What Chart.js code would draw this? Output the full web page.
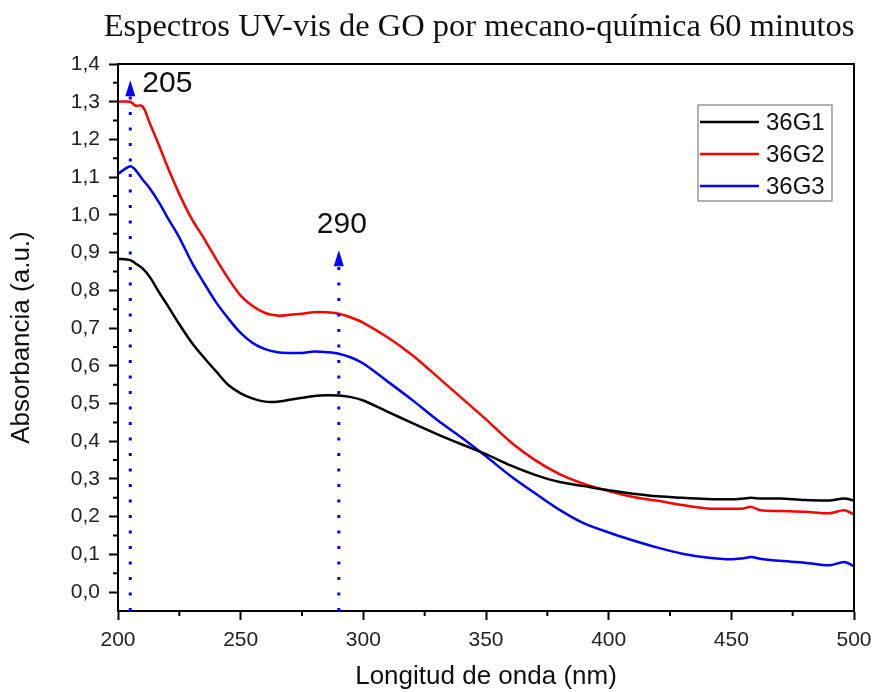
<!DOCTYPE html>
<html lang="es">
<head>
<meta charset="UTF-8">
<title>Espectros UV-vis de GO</title>
<script src="https://cdn.jsdelivr.net/npm/chart.js"></script>
<style>
  html, body { margin: 0; padding: 0; background: #fff; }
  #wrap { width: 874px; height: 692px; }
</style>
</head>
<body>
<div id="wrap"><canvas id="uvChart" width="874" height="692"></canvas></div>
<script>
// wavelength grid (nm) shared by the three spectra
const wavelengths = [200, 205, 207, 210, 213, 217, 220, 225, 230, 235, 240, 245, 250, 255, 260, 265,
  270, 275, 280, 285, 290, 295, 300, 310, 320, 330, 340, 350, 360, 370, 380, 390, 400, 410, 420, 430,
  440, 450, 455, 458, 462, 470, 480, 490, 496, 500];

// absorbance (a.u.)
const g1 = [0.884, 0.88, 0.872, 0.858, 0.835, 0.792, 0.762, 0.71, 0.662, 0.622, 0.585, 0.549, 0.527,
  0.513, 0.505, 0.505, 0.51, 0.515, 0.52, 0.522, 0.521, 0.517, 0.508, 0.478, 0.448, 0.419, 0.392,
  0.366, 0.336, 0.311, 0.292, 0.281, 0.27, 0.261, 0.254, 0.25, 0.247, 0.246, 0.248, 0.25, 0.248,
  0.248, 0.244, 0.243, 0.248, 0.243];
const g2 = [1.30, 1.30, 1.29, 1.288, 1.242, 1.18, 1.13, 1.055, 0.99, 0.938, 0.883, 0.831, 0.786,
  0.758, 0.74, 0.733, 0.735, 0.738, 0.742, 0.742, 0.738, 0.728, 0.714, 0.675, 0.628, 0.572, 0.515,
  0.458, 0.398, 0.35, 0.313, 0.287, 0.268, 0.252, 0.242, 0.231, 0.222, 0.221, 0.222, 0.226, 0.217,
  0.215, 0.213, 0.209, 0.217, 0.206];
const g3 = [1.109, 1.129, 1.12, 1.094, 1.07, 1.03, 0.995, 0.94, 0.875, 0.82, 0.768, 0.725, 0.687,
  0.66, 0.644, 0.636, 0.634, 0.634, 0.638, 0.636, 0.632, 0.622, 0.606, 0.558, 0.509, 0.457, 0.41,
  0.36, 0.308, 0.262, 0.218, 0.182, 0.158, 0.137, 0.118, 0.102, 0.092, 0.087, 0.09, 0.093, 0.088,
  0.083, 0.078, 0.071, 0.08, 0.069];

const seriesNames = ['36G1', '36G2', '36G3'];
const seriesColors = ['#000000', '#ff0000', '#0000ff'];

// axis ticks
const yTicks = [0, 0.1, 0.2, 0.3, 0.4, 0.5, 0.6, 0.7, 0.8, 0.9, 1.0, 1.1, 1.2, 1.3, 1.4];
const yMinor = [0.05, 0.15, 0.25, 0.35, 0.45, 0.55, 0.65, 0.75, 0.85, 0.95, 1.05, 1.15, 1.25, 1.35];
const xMinor = [225, 275, 325, 375, 425, 475];

// marked absorption peaks and arrow tips
const peaks = [205, 290];
const peakTops = [1.357, 0.906];

const SANS = '"Liberation Sans", Arial, Helvetica, sans-serif';
const SERIF = '"Liberation Serif", "Times New Roman", serif';

const toPoints = vals => wavelengths.map((w, i) => ({ x: w, y: vals[i] }));

const decorations = {
  id: 'decorations',
  afterDraw(chart) {
    const { ctx, chartArea: a, scales: { x, y } } = chart;
    ctx.save();

    // box around plot
    ctx.strokeStyle = '#000';
    ctx.lineWidth = 2;
    ctx.strokeRect(a.left, a.top, a.right - a.left, a.bottom - a.top);

    // minor ticks
    ctx.beginPath();
    xMinor.forEach(v => {
      const px = x.getPixelForValue(v);
      ctx.moveTo(px, a.bottom);
      ctx.lineTo(px, a.bottom + 5);
    });
    yMinor.forEach(v => {
      const py = y.getPixelForValue(v);
      ctx.moveTo(a.left, py);
      ctx.lineTo(a.left - 5, py);
    });
    ctx.stroke();

    // dotted peak markers with arrow heads
    ctx.strokeStyle = '#0000ff';
    ctx.fillStyle = '#0000ff';
    peaks.forEach((p, i) => {
      const px = x.getPixelForValue(p);
      const tip = y.getPixelForValue(peakTops[i]);
      const base = tip + 16;
      ctx.lineWidth = 3;
      ctx.setLineDash([3, 12.5]);
      ctx.beginPath();
      ctx.moveTo(px, a.bottom);
      ctx.lineTo(px, base);
      ctx.stroke();
      ctx.setLineDash([]);
      ctx.beginPath();
      ctx.moveTo(px, tip);
      ctx.lineTo(px - 5, base);
      ctx.lineTo(px + 5, base);
      ctx.closePath();
      ctx.fill();
    });

    // peak labels
    ctx.fillStyle = '#111';
    ctx.font = '30px ' + SANS;
    ctx.textBaseline = 'alphabetic';
    ctx.textAlign = 'left';
    let px = x.getPixelForValue(peaks[0]);
    ctx.fillText(String(peaks[0]), px + 12, y.getPixelForValue(peakTops[0]) + 12);
    px = x.getPixelForValue(peaks[1]);
    ctx.textAlign = 'center';
    ctx.fillText(String(peaks[1]), px + 3, y.getPixelForValue(peakTops[1]) - 17);

    // legend box
    const lx = a.right - 156, ly = a.top + 41;
    ctx.strokeStyle = '#666';
    ctx.lineWidth = 1;
    ctx.strokeRect(lx, ly, 134, 96);
    ctx.font = '24px ' + SANS;
    ctx.textAlign = 'left';
    ctx.textBaseline = 'middle';
    chart.data.datasets.forEach((ds, i) => {
      const ry = ly + 17 + i * 32;
      ctx.strokeStyle = ds.borderColor;
      ctx.lineWidth = 2.5;
      ctx.beginPath();
      ctx.moveTo(lx + 2, ry);
      ctx.lineTo(lx + 61, ry);
      ctx.stroke();
      ctx.fillStyle = '#111';
      ctx.fillText(ds.label, lx + 68, ry + 1);
    });

    // chart title
    ctx.font = '32.5px ' + SERIF;
    ctx.textAlign = 'center';
    ctx.textBaseline = 'alphabetic';
    ctx.fillStyle = '#111';
    ctx.fillText('Espectros UV-vis de GO por mecano-química 60 minutos', 479, 36);

    ctx.restore();
  }
};

new Chart(document.getElementById('uvChart'), {
  type: 'line',
  data: {
    datasets: [g1, g2, g3].map((vals, i) => ({
      label: seriesNames[i],
      data: toPoints(vals),
      borderColor: seriesColors[i],
      backgroundColor: seriesColors[i],
      borderWidth: 2.5,
      pointRadius: 0,
      tension: 0.3,
      fill: false
    }))
  },
  options: {
    responsive: false,
    animation: false,
    devicePixelRatio: 1,
    layout: { padding: { top: 64, right: 20, bottom: 0, left: 0 } },
    plugins: {
      legend: { display: false },
      tooltip: { enabled: false },
      title: { display: false }
    },
    scales: {
      x: {
        type: 'linear',
        min: 200,
        max: 500,
        afterFit: s => { s.height = 81; s.paddingLeft = 0; s.paddingRight = 0; },
        ticks: {
          stepSize: 50,
          color: '#222',
          padding: 8,
          font: { family: SANS, size: 21 }
        },
        grid: {
          drawOnChartArea: false,
          drawTicks: true,
          tickLength: 9,
          tickWidth: 2,
          tickColor: '#000'
        },
        border: { display: true, color: '#000', width: 2 },
        title: {
          display: true,
          text: 'Longitud de onda (nm)',
          color: '#111',
          font: { family: SANS, size: 26 },
          padding: { top: 0, bottom: 0 }
        }
      },
      y: {
        type: 'linear',
        min: -0.05,
        max: 1.4,
        afterFit: s => { s.width = 118; s.paddingTop = 0; s.paddingBottom = 0; },
        afterBuildTicks: s => { s.ticks = yTicks.map(v => ({ value: v })); },
        ticks: {
          color: '#222',
          padding: 9,
          font: { family: SANS, size: 21 },
          callback: v => v.toFixed(1).replace('.', ',')
        },
        grid: {
          drawOnChartArea: false,
          drawTicks: true,
          tickLength: 9,
          tickWidth: 2,
          tickColor: '#000'
        },
        border: { display: true, color: '#000', width: 2 },
        title: {
          display: true,
          text: 'Absorbancia (a.u.)',
          color: '#111',
          font: { family: SANS, size: 26 },
          padding: { top: 6, bottom: 0 }
        }
      }
    }
  },
  plugins: [decorations]
});
</script>
</body>
</html>
